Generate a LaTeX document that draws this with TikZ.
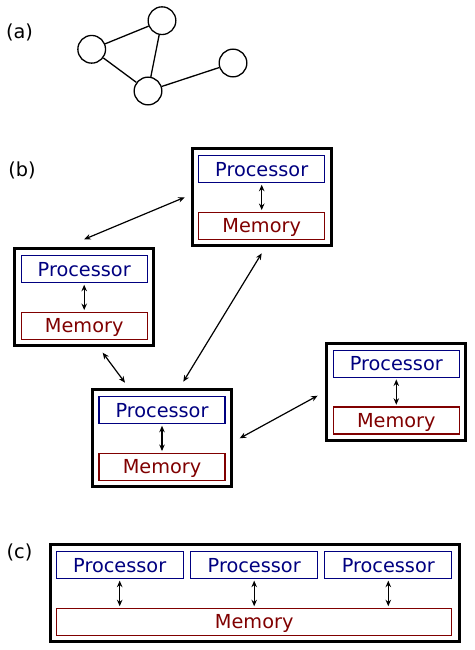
\documentclass[tikz,border=0pt]{standalone}
\usepackage{fontspec}
\setmainfont{DejaVu Sans}
\usetikzlibrary{arrows.meta}
\definecolor{procblue}{RGB}{0,0,128}
\definecolor{memred}{RGB}{128,0,0}
\tikzset{
  txt/.style={font=\fontsize{19.3}{22}\selectfont},
  outerbox/.style={draw, line width=3pt, minimum width=139pt, minimum height=97pt, inner sep=0pt},
  procbox/.style={txt, draw=procblue, text=procblue, line width=1.3pt, minimum width=126pt, minimum height=27pt, inner sep=0pt, text depth=0pt},
  membox/.style={txt, draw=memred, text=memred, line width=1.3pt, minimum width=126pt, minimum height=27pt, inner sep=0pt, text depth=0pt},
  biarrow/.style={{Stealth[length=6.5pt,width=5.5pt]}-{Stealth[length=6.5pt,width=5.5pt]}, line width=1.2pt},
  vertex/.style={circle, draw, line width=1.3pt, minimum size=27.7pt, inner sep=0pt},
  edge/.style={line width=1.3pt}
}
\begin{document}
\begin{tikzpicture}[x=1pt,y=-1pt]
\useasboundingbox (0,0) rectangle (474,650);
% (a)
\node[txt] (la) at (19.5,32) {(a)};
\node[vertex] (v1) at (91.7,49.3) {};
\node[vertex] (v2) at (162,20.7) {};
\node[vertex] (v3) at (148,91) {};
\node[vertex] (v4) at (233,63) {};
\draw[edge] (v1) -- (v2);
\draw[edge] (v1) -- (v3);
\draw[edge] (v2) -- (v3);
\draw[edge] (v3) -- (v4);
% (b)
\node[txt] (lb) at (22,170.6) {(b)};
\foreach \n/\x/\y in {1/261.7/197.3, 2/84.2/297.3, 3/162/438.3, 4/396.3/392}{
  \node[outerbox] (B\n) at (\x,\y) {};
  \node[procbox] (P\n) at ([yshift=28.2pt]B\n.center) {Processor};
  \node[membox] (M\n) at ([yshift=-28.4pt]B\n.center) {Memory};
  \draw[biarrow, shorten <=1.5pt, shorten >=1.5pt] (P\n.south) -- (M\n.north);
}
\draw[biarrow] ([yshift=8pt]B2.north) -- ([xshift=-6pt]B1.west);
\draw[biarrow] ([shift={(21.3pt,6.6pt)}]B3.north) -- ([yshift=-6pt]B1.south);
\draw[biarrow] ([shift={(18.5pt,-5.4pt)}]B2.south) -- ([shift={(-37pt,5.6pt)}]B3.north);
\draw[biarrow] ([xshift=6.7pt]B3.east) -- ([shift={(-7.7pt,-3.7pt)}]B4.west);
% (c)
\node[txt] (lc) at (19.5,552.7) {(c)};
\node[outerbox, minimum width=408.7pt] (C) at (254.9,593.3) {};
\node[procbox, minimum width=127pt] (Q1) at (119.7,565) {Processor};
\node[procbox, minimum width=127pt] (Q2) at (254.2,565) {Processor};
\node[procbox, minimum width=127pt] (Q3) at (388.3,565) {Processor};
\node[membox, minimum width=395pt] (MC) at (254.2,621.9) {Memory};
\foreach \q in {Q1,Q2,Q3}{
  \draw[biarrow, shorten <=1.5pt, shorten >=1.5pt] (\q.south) -- (\q.south |- MC.north);
}
\end{tikzpicture}
\end{document}
